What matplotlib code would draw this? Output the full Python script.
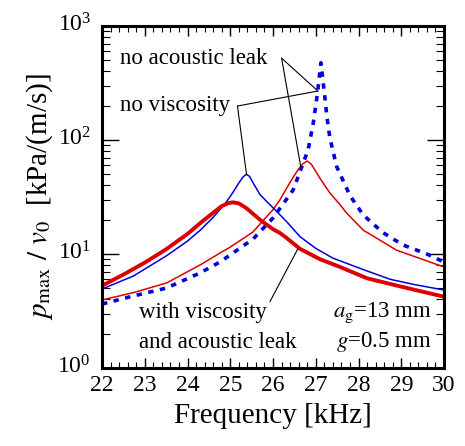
import matplotlib
matplotlib.use('Agg')
import matplotlib.pyplot as plt
import matplotlib.transforms as mtransforms
from matplotlib.ticker import LogLocator, MultipleLocator, NullFormatter

plt.rcParams['font.family'] = ['Liberation Serif', 'DejaVu Serif']
plt.rcParams['mathtext.fontset'] = 'stix'

# with viscosity and acoustic leak (thick red)
f_both = [22.0, 22.5, 23.0, 23.5, 24.0, 24.3, 24.6, 24.8, 24.95, 25.06, 25.2, 25.38,
          25.7, 26.0, 26.16, 26.3, 26.63, 27.1, 27.57, 28.2, 29.0, 30.0]
p_both = [5.27, 6.6, 8.4, 11.0, 15.0, 18.7, 23.0, 26.3, 27.9, 28.4, 27.8, 25.2,
          19.9, 16.5, 15.3, 14.0, 11.1, 9.0, 7.69, 6.12, 5.17, 4.22]

# no viscosity (thin blue)
f_novis = [22.0, 22.73, 23.5, 24.0, 24.3, 24.6, 24.88, 25.0, 25.1, 25.2, 25.3, 25.38,
           25.45, 25.54, 25.7, 26.01, 26.32, 26.63, 27.0, 27.4, 28.11, 28.74, 29.3, 30.0]
p_novis = [4.93, 6.4, 9.6, 13.0, 16.2, 21.0, 27.7, 32.0, 36.5, 42.0, 47.5, 50.0,
           48.0, 41.7, 33.0, 25.2, 19.2, 14.2, 11.2, 9.2, 7.3, 6.0, 5.4, 4.83]

# no acoustic leak (thin red)
f_noleak = [22.0, 22.73, 23.51, 24.29, 24.76, 25.0, 25.53, 26.0, 26.16, 26.32, 26.47,
            26.6, 26.7, 26.8, 26.9, 27.0, 27.1, 27.33, 27.57, 27.72, 28.11, 28.89, 30.0]
p_noleak = [3.95, 4.58, 5.57, 8.0, 10.2, 11.5, 15.6, 24.5, 29.8, 37.9, 47.0,
            56.0, 62.0, 65.4, 61.0, 53.0, 46.0, 34.3, 27.0, 22.9, 16.2, 10.8, 7.69]

# no viscosity and no acoustic leak (dotted blue)
f_none = [22.0, 22.73, 23.51, 24.29, 24.76, 25.53, 26.0, 26.47, 26.82, 26.94, 27.04,
          27.12, 27.22, 27.26, 27.33, 27.49, 27.8, 28.11, 28.57, 29.04, 29.6, 30.0]
p_none = [3.64, 4.28, 5.03, 6.81, 8.51, 13.5, 20.7, 36.4, 81.7, 140.0, 257.0,
          476.0, 224.0, 160.0, 104.0, 58.3, 32.5, 22.0, 15.4, 12.0, 10.0, 8.5]

fig = plt.figure(figsize=(4.65, 4.46), dpi=100)
ax = fig.add_axes([0.2194, 0.1749, 0.7355, 0.7668])

ax.plot(f_none, p_none, color='#0000dd', lw=2.6, linestyle=(0, (1.5, 1.8)))
ax.plot(f_noleak, p_noleak, color='#dd0000', lw=1.1)
ax.plot(f_novis, p_novis, color='#0000dd', lw=1.1)
ax.plot(f_both, p_both, color='#dd0000', lw=2.8)

ax.set_yscale('log')
ax.set_xlim(22, 30)
ax.set_ylim(1, 1000)
ax.xaxis.set_major_locator(MultipleLocator(1))
ax.xaxis.set_minor_locator(MultipleLocator(0.2))
ax.yaxis.set_major_locator(LogLocator(base=10))
ax.yaxis.set_minor_locator(LogLocator(base=10, subs=range(2, 10)))
ax.yaxis.set_minor_formatter(NullFormatter())
ax.tick_params(which='both', direction='in', top=True, right=True, labelsize=17)
ax.tick_params(axis='y', which='major', length=12, width=1.0, pad=8)
ax.tick_params(axis='y', which='minor', length=6, width=0.8)
ax.tick_params(axis='x', which='major', length=7, width=1.0, pad=5)
ax.tick_params(axis='x', which='minor', length=4, width=0.8)
for s in ax.spines.values():
    s.set_linewidth(2.2)

# lift the y tick labels a little
shift = mtransforms.ScaledTranslation(0, 4 / 100, fig.dpi_scale_trans)
for lab in ax.get_yticklabels():
    lab.set_transform(lab.get_transform() + shift)

ax.set_xlabel('Frequency [kHz]', fontsize=21, labelpad=5)
ax.set_ylabel(r'$p_{\rm max}\ /\ v_0$  [kPa/(m/s)]', fontsize=21, labelpad=2)

# annotations
lk = dict(arrowstyle='-', shrinkA=0, shrinkB=0, color='black', lw=0.8)
ax.text(0.053, 0.906, 'no acoustic leak', transform=ax.transAxes, fontsize=16.5, va='center')
ax.text(0.053, 0.769, 'no viscosity', transform=ax.transAxes, fontsize=16.5, va='center')
ax.annotate('', xy=(27.05, 269), xytext=(0.525, 0.906), textcoords='axes fraction',
            arrowprops=lk)
ax.annotate('', xy=(26.65, 58), xytext=(0.525, 0.906), textcoords='axes fraction',
            arrowprops=lk)
ax.annotate('', xy=(27.05, 269), xytext=(0.396, 0.766), textcoords='axes fraction',
            arrowprops=lk)
ax.annotate('', xy=(25.38, 50), xytext=(0.396, 0.766), textcoords='axes fraction',
            arrowprops=lk)
ax.annotate('', xy=(26.58, 11.1), xytext=(0.491, 0.194), textcoords='axes fraction',
            arrowprops=lk)
ax.text(0.108, 0.161, 'with viscosity', transform=ax.transAxes, fontsize=16.5, va='center')
ax.text(0.108, 0.076, 'and acoustic leak', transform=ax.transAxes, fontsize=16.5, va='center')
ax.text(0.965, 0.161, r'$a_{\rm g}$=13 mm', transform=ax.transAxes, fontsize=16.5,
        va='center', ha='right')
ax.text(0.965, 0.076, r'$g$=0.5 mm', transform=ax.transAxes, fontsize=16.5,
        va='center', ha='right')

plt.savefig('out.png', dpi=100)
